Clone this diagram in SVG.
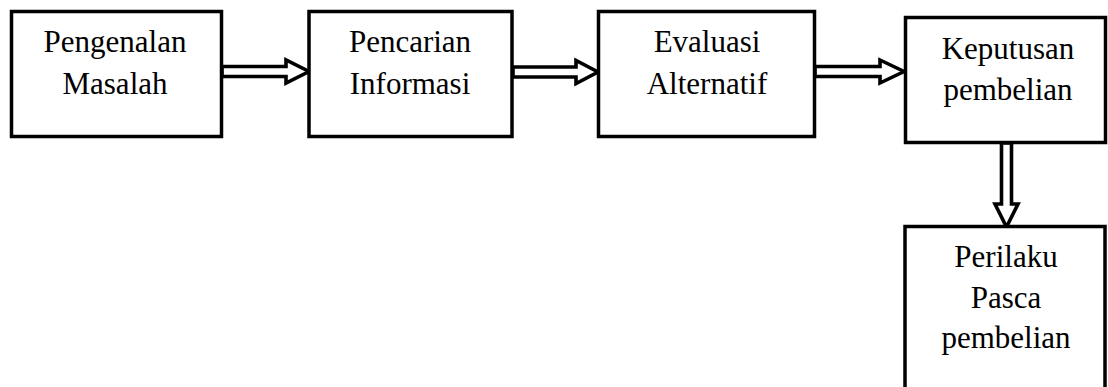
<svg xmlns="http://www.w3.org/2000/svg" width="1108" height="387" viewBox="0 0 1108 387">
<style>
.box{fill:#fff;stroke:#000;stroke-width:3.5}
.arr{fill:#fff;stroke:#000;stroke-width:3.6;stroke-linejoin:miter}
.t{font-family:"Liberation Serif","Times New Roman",serif;font-size:31px;fill:#000;text-anchor:middle}
</style>
<rect width="1108" height="387" fill="#fff"/>
<g id="connectors">
<polygon class="arr" points="222,66.5 286,66.5 286,60 309,71.5 286,83 286,76.5 222,76.5"/>
<polygon class="arr" points="513,67 576,67 576,60.5 598,72 576,83.5 576,77 513,77"/>
<polygon class="arr" points="815,66.5 880,66.5 880,60 904,71.5 880,83 880,76.5 815,76.5"/>
<polygon class="arr" points="1001.5,143 1001.5,204 995,204 1006.5,227 1018,204 1011.5,204 1011.5,143"/>
</g>
<g id="n1"><rect class="box" x="11.5" y="11.5" width="210" height="125"/>
<text class="t" x="115" y="52">Pengenalan</text><text class="t" x="115" y="93.5">Masalah</text></g>
<g id="n2"><rect class="box" x="309" y="11.5" width="203" height="125"/>
<text class="t" x="410" y="52">Pencarian</text><text class="t" x="410" y="93.5">Informasi</text></g>
<g id="n3"><rect class="box" x="598.5" y="11.5" width="216" height="125"/>
<text class="t" x="707" y="52">Evaluasi</text><text class="t" x="707" y="93.5">Alternatif</text></g>
<g id="n4"><rect class="box" x="905.5" y="17.5" width="200" height="125"/>
<text class="t" x="1008" y="58.5">Keputusan</text><text class="t" x="1008" y="99.5">pembelian</text></g>
<g id="n5"><rect class="box" x="905" y="226.5" width="200" height="180"/>
<text class="t" x="1006" y="267">Perilaku</text><text class="t" x="1006" y="308">Pasca</text><text class="t" x="1006" y="348">pembelian</text></g>
</svg>
